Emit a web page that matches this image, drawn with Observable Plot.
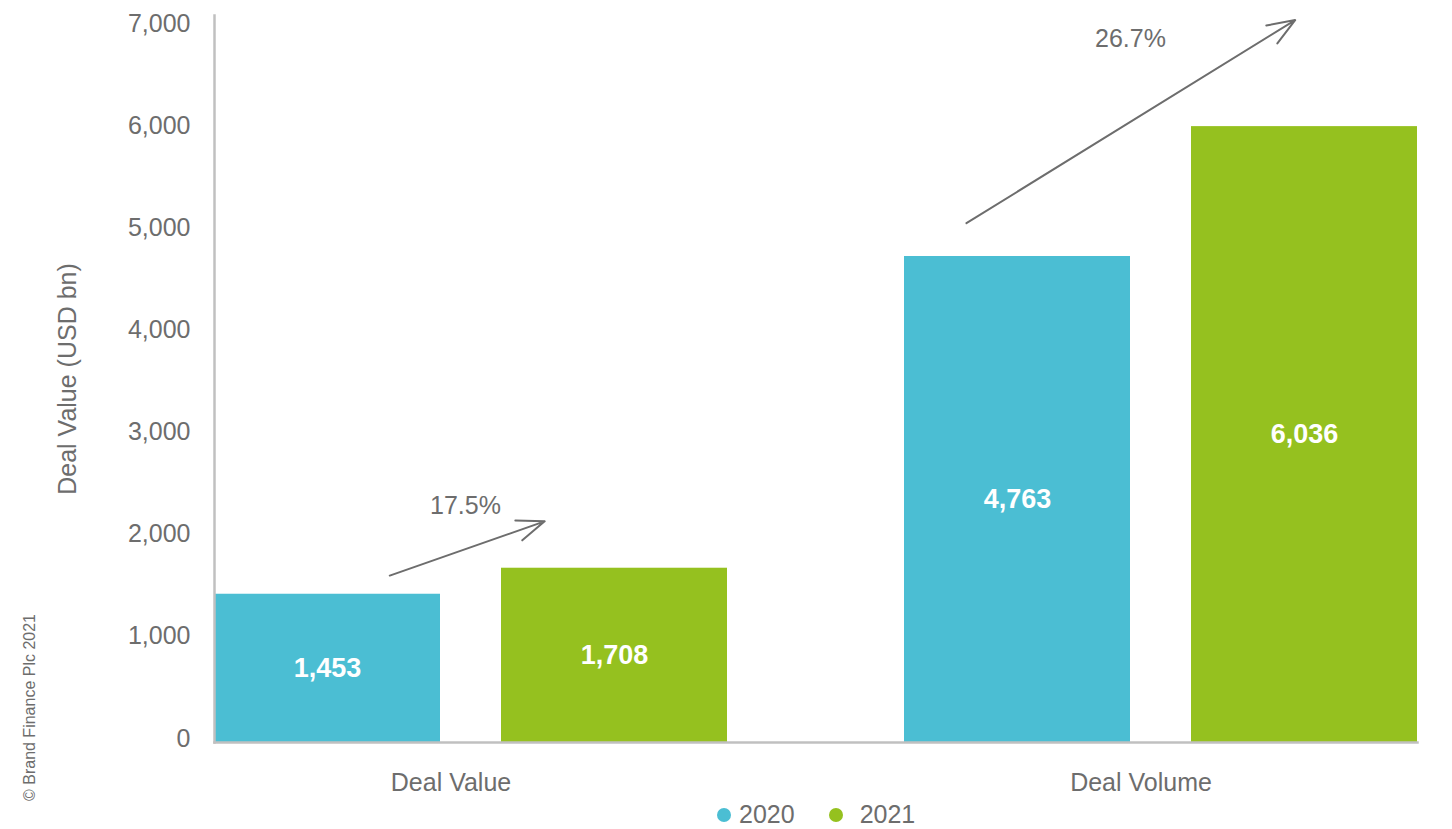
<!DOCTYPE html>
<html>
<head>
<meta charset="utf-8">
<script src="https://cdn.jsdelivr.net/npm/d3@7"></script>
<script src="https://cdn.jsdelivr.net/npm/@observablehq/plot@0.6"></script>
<style>
  html, body { margin: 0; padding: 0; background: #fff; }
  body { width: 1452px; height: 829px; position: relative; overflow: hidden; font-family: "Liberation Sans", Arial, sans-serif; }
  #legend { position: absolute; top: 800px; left: 0; width: 1452px; height: 29px; display: flex; align-items: center; font-size: 25px; color: #6d6d6d; }
  #legend .sw { width: 14px; height: 14px; border-radius: 50%; display: inline-block; }
  #copy { position: absolute; left: 21px; top: 801px; transform-origin: 0 0; transform: rotate(-90deg); font-size: 16px; line-height: 18px; color: #6d6d6d; white-space: nowrap; }
</style>
</head>
<body>
<div id="chart"></div>
<div id="legend"></div>
<div id="copy">© Brand Finance Plc 2021</div>
<script>
// ---- data ----
const categories = ["Deal Value", "Deal Volume"];
const years = ["2020", "2021"];
const values2020 = [1453, 4763];
const values2021 = [1708, 6036];
const growthLabels = ["17.5%", "26.7%"];
const arrowFrom = [1422, 5399];   // arrow y at the 2020 bar centre (USD bn)
const arrowTo = [2407, 7137];     // arrow y at the 2021 bar centre (USD bn)
const growthLabelY = [2320, 6899];
const yTicks = [0, 1000, 2000, 3000, 4000, 5000, 6000, 7000];
const yLabel = "Deal Value (USD bn)";
const copyright = "© Brand Finance Plc 2021";

// ---- styles ----
const colors = ["#4BBED3", "#95C11F"];
const grey = "#6d6d6d";
const axisGrey = "#c0c0c0";
const annotStyle = [
  {insetStart: 66, insetEnd: 74, dx: 138},
  {insetStart: -60, insetEnd: 11, dx: 113}
];
const fmt = d3.format(",");

// ---- tables ----
const bars = [];
categories.forEach((c, i) => {
  bars.push({category: c, year: years[0], value: values2020[i]});
  bars.push({category: c, year: years[1], value: values2021[i]});
});
const annots = categories.map((c, i) => ({
  category: c, from: years[0], to: years[1],
  y1: arrowFrom[i], y2: arrowTo[i], label: growthLabels[i], ly: growthLabelY[i]
}));

const marks = [
  Plot.barY(bars, {fx: "category", x: "year", y: "value", fill: "year"}),
  Plot.text(bars, {fx: "category", x: "year", y: d => d.value / 2, text: d => fmt(d.value),
    fill: "white", fontWeight: "bold", fontSize: 27}),
  Plot.frame({anchor: "bottom", facet: "super", stroke: axisGrey, strokeWidth: 2.5}),
  Plot.frame({anchor: "left", facet: "super", stroke: axisGrey, strokeWidth: 2.5}),
  Plot.axisY({ticks: yTicks, tickFormat: d => fmt(d), tickSize: 0, tickPadding: 24, fontSize: 25, dy: -4,
    label: yLabel, labelAnchor: "center", labelOffset: 156, labelArrow: false}),
  Plot.axisFx({anchor: "bottom", tickSize: 0, tickPadding: 31, fontSize: 25, label: null, dx: -20})
];
annots.forEach((a, i) => {
  const s = annotStyle[i];
  marks.push(Plot.arrow([a], {fx: "category", x1: "from", x2: "to", y1: "y1", y2: "y2",
    insetStart: s.insetStart, insetEnd: s.insetEnd, stroke: grey, strokeWidth: 2,
    headLength: 22, headAngle: 42}));
  marks.push(Plot.text([a], {fx: "category", x: "from", y: "ly", text: "label", dx: s.dx,
    fontSize: 25, fill: grey}));
});

const chart = Plot.plot({
  width: 1452,
  height: 800,
  marginLeft: 214,
  marginRight: 35,
  marginTop: 15,
  marginBottom: 58,
  style: {fontFamily: "'Liberation Sans', Arial, sans-serif", color: grey, background: "white", overflow: "visible"},
  fx: {domain: categories, paddingInner: 0.257, paddingOuter: 0, label: null},
  x: {domain: years, paddingInner: 0.213, paddingOuter: 0, axis: null},
  y: {domain: [0, 7125], label: yLabel},
  color: {domain: years, range: colors},
  marks
});
document.getElementById("chart").appendChild(chart);

// legend
const lg = document.getElementById("legend");
const gaps = [{pad: 717, sw: 8}, {pad: 34, sw: 17}];
years.forEach((y, i) => {
  const sw = document.createElement("span");
  sw.className = "sw";
  sw.style.background = colors[i];
  sw.style.marginLeft = gaps[i].pad + "px";
  sw.style.marginRight = gaps[i].sw + "px";
  const t = document.createElement("span");
  t.textContent = y;
  lg.appendChild(sw);
  lg.appendChild(t);
});
document.getElementById("copy").textContent = copyright;
</script>
</body>
</html>
